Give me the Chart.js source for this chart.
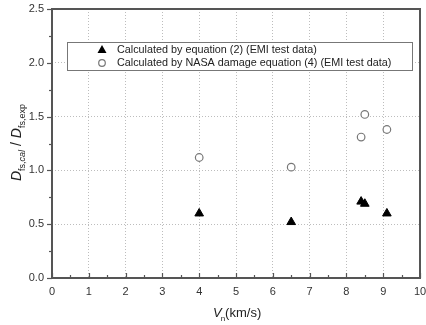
<!DOCTYPE html>
<html>
<head>
<meta charset="utf-8">
<script src="https://cdn.jsdelivr.net/npm/chart.js@4"></script>
<style>
  html, body { margin: 0; padding: 0; background: #fff; }
  #wrap { width: 426px; height: 325px; }
</style>
</head>
<body>
<div id="wrap"><canvas id="fsChart"></canvas></div>
<script>
// data
var eqVelocity = [4.0, 6.5, 8.4, 8.5, 9.1];
var eqRatio = [0.60, 0.52, 0.71, 0.69, 0.60];
var nasaVelocity = [4.0, 6.5, 8.4, 8.5, 9.1];
var nasaRatio = [1.12, 1.03, 1.31, 1.52, 1.38];
var xTicks = [0, 1, 2, 3, 4, 5, 6, 7, 8, 9, 10];
var yTicks = [0.0, 0.5, 1.0, 1.5, 2.0, 2.5];
var legendLabels = [
    'Calculated by equation (2) (EMI test data)',
    'Calculated by NASA damage equation (4) (EMI test data)'
];

function toPoints(xs, ys) {
    return xs.map(function (x, i) { return { x: x, y: ys[i] }; });
}

var FONT = '"Liberation Sans", Arial, sans-serif';
var AXIS_COL = '#555';

// frame, inward x ticks, outward y ticks, titles and legend box
var decor = {
    id: 'decor',
    afterDraw: function (chart) {
        var ctx = chart.ctx;
        var a = chart.chartArea;
        var xs = chart.scales.x, ys = chart.scales.y;
        ctx.save();
        ctx.strokeStyle = AXIS_COL;
        ctx.lineWidth = 1.2;
        // x ticks (pointing up)
        for (var v = 0; v <= 10; v += 0.5) {
            var px = Math.round(xs.getPixelForValue(v)) + 0.5;
            var len = (v % 1 === 0) ? 5 : 3;
            ctx.beginPath();
            ctx.moveTo(px, a.bottom);
            ctx.lineTo(px, a.bottom - len);
            ctx.stroke();
        }
        // y ticks (pointing left)
        for (var w = 0; w <= 2.5001; w += 0.25) {
            var py = Math.round(ys.getPixelForValue(w)) + 0.5;
            var l2 = (Math.abs(w * 2 - Math.round(w * 2)) < 1e-6) ? 5 : 3;
            ctx.beginPath();
            ctx.moveTo(a.left, py);
            ctx.lineTo(a.left - l2, py);
            ctx.stroke();
        }
        // frame
        ctx.lineWidth = 2;
        ctx.strokeRect(a.left, a.top, a.right - a.left, a.bottom - a.top);

        // x title: V_n(km/s)
        ctx.fillStyle = '#222';
        ctx.textBaseline = 'alphabetic';
        var tx = 213, ty = 317;
        ctx.font = 'italic 13px ' + FONT;
        ctx.fillText('V', tx, ty);
        tx += ctx.measureText('V').width;
        ctx.font = '8px ' + FONT;
        ctx.fillText('n', tx - 1, ty + 4);
        tx += ctx.measureText('n').width - 1;
        ctx.font = '13px ' + FONT;
        ctx.fillText('(km/s)', tx, ty);

        // y title: D_fs,cal / D_fs,exp (rotated)
        ctx.save();
        ctx.translate(21, 181);
        ctx.rotate(-Math.PI / 2);
        var sx = 0;
        var parts = [
            ['italic 14px ', 'D', 0], ['9px ', 'fs,', 4], ['italic 9px ', 'cal', 4],
            ['14px ', ' / ', 0], ['italic 14px ', 'D', 0], ['9px ', 'fs,exp', 4]
        ];
        parts.forEach(function (p) {
            ctx.font = p[0] + FONT;
            ctx.fillText(p[1], sx, p[2]);
            sx += ctx.measureText(p[1]).width;
        });
        ctx.restore();

        // legend
        var lx = 67, ly = 42, lw = 345, lh = 28;
        ctx.fillStyle = '#fff';
        ctx.fillRect(lx, ly, lw, lh);
        ctx.strokeStyle = '#777';
        ctx.lineWidth = 1;
        ctx.strokeRect(lx + 0.5, ly + 0.5, lw, lh);
        // triangle marker
        ctx.fillStyle = '#000';
        ctx.beginPath();
        ctx.moveTo(102, 45);
        ctx.lineTo(106.5, 53);
        ctx.lineTo(97.5, 53);
        ctx.closePath();
        ctx.fill();
        // circle marker
        ctx.strokeStyle = '#777';
        ctx.lineWidth = 1.2;
        ctx.beginPath();
        ctx.arc(102, 63, 3.3, 0, Math.PI * 2);
        ctx.stroke();
        ctx.fillStyle = '#222';
        ctx.font = '10.8px ' + FONT;
        ctx.textBaseline = 'middle';
        ctx.fillText(legendLabels[0], 117, 50);
        ctx.fillText(legendLabels[1], 117, 63);
        ctx.restore();
    }
};

var ctx = document.getElementById('fsChart').getContext('2d');
var fsChart = new Chart(ctx, {
    type: 'scatter',
    data: {
        datasets: [{
            label: legendLabels[0],
            data: toPoints(eqVelocity, eqRatio),
            pointStyle: 'triangle',
            pointRadius: 5,
            backgroundColor: '#000',
            borderColor: '#000',
            borderWidth: 1
        }, {
            label: legendLabels[1],
            data: toPoints(nasaVelocity, nasaRatio),
            pointStyle: 'circle',
            pointRadius: 3.8,
            backgroundColor: '#fff',
            borderColor: '#777',
            borderWidth: 1.2
        }]
    },
    options: {
        responsive: true,
        maintainAspectRatio: false,
        animation: false,
        layout: { padding: { left: 0, top: 9, right: 6, bottom: 0 } },
        plugins: {
            legend: { display: false },
            tooltip: { enabled: false }
        },
        scales: {
            x: {
                type: 'linear',
                min: 0,
                max: 10,
                afterFit: function (s) {
                    s.height = 47;
                    s.paddingLeft = 0;
                    s.paddingRight = 0;
                },
                afterBuildTicks: function (s) {
                    s.ticks = xTicks.map(function (v) { return { value: v }; });
                },
                border: { display: false, dash: [1, 2] },
                grid: {
                    drawTicks: false,
                    color: function (c) { return (c.tick.value === 0 || c.tick.value === 10) ? 'rgba(0,0,0,0)' : '#bdbdbd'; },
                    lineWidth: 1
                },
                ticks: {
                    padding: 7,
                    color: '#333',
                    font: { family: FONT, size: 11 },
                    maxRotation: 0
                }
            },
            y: {
                min: 0,
                max: 2.5,
                afterFit: function (s) {
                    s.width = 52;
                    s.paddingTop = 0;
                    s.paddingBottom = 0;
                },
                afterBuildTicks: function (s) {
                    s.ticks = yTicks.map(function (v) { return { value: v }; });
                },
                border: { display: false, dash: [1, 2] },
                grid: {
                    drawTicks: false,
                    color: function (c) { return (c.tick.value === 0 || c.tick.value === 2.5) ? 'rgba(0,0,0,0)' : '#bdbdbd'; },
                    lineWidth: 1
                },
                ticks: {
                    padding: 8,
                    color: '#333',
                    font: { family: FONT, size: 11 },
                    callback: function (v) { return Number(v).toFixed(1); }
                }
            }
        }
    },
    plugins: [decor]
});
</script>
</body>
</html>
